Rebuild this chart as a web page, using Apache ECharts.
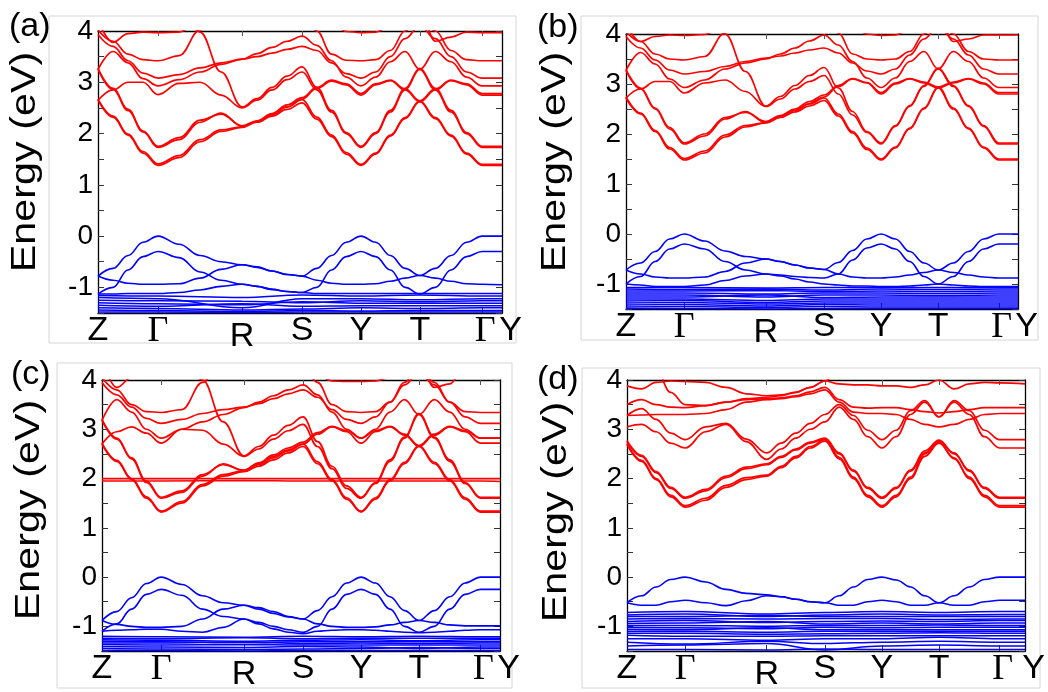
<!DOCTYPE html>
<html><head><meta charset="utf-8">
<script src="https://cdn.jsdelivr.net/npm/echarts@6/dist/echarts.min.js"></script>
<style>html,body{margin:0;padding:0;background:#fff}#c{width:1048px;height:692px}</style>
</head><body><div id="c"></div>
<script>
// ---- k-path (high-symmetry points) ----
const KLABELS = ['Z','Γ','R','S','Y','T','Γ','Y'];
const KPOS_ABC = [0, 1.0, 2.4, 3.4, 4.38, 5.36, 6.4, 6.73];
const KPOS_D   = [0, 1.0, 2.4, 3.4, 4.38, 5.36, 6.4, 6.84];
const Y_MIN = -1.5, Y_MAX = 4, Y_STEP = 0.5;
const PANEL_LETTERS = ['(a)','(b)','(c)','(d)'];
const Y_TITLE = 'Energy (eV)';

// Band values: 26 samples = quarter points of the 6 segments Z-Γ-R-S-Y-T-Γ + Γ + final Y
// Flat/dense bands: 8 samples at the high-symmetry points only.

// ---------- panel (a) ----------
const A_CB = [
 [2.65,2.32,1.97,1.62,1.38,1.53,1.84,2.04,2.12,2.22,2.34,2.47,2.60,2.28,1.94,1.60,1.38,1.60,1.95,2.29,2.62,2.29,1.95,1.60,1.38,1.38],
 [2.67,2.34,1.99,1.65,1.41,1.57,1.88,2.07,2.13,2.24,2.37,2.52,2.66,2.32,1.97,1.63,1.40,1.62,1.97,2.31,2.64,2.31,1.97,1.62,1.40,1.40],
 [3.25,2.86,2.45,2.03,1.73,1.88,2.22,2.40,2.14,2.23,2.36,2.52,2.67,2.88,3.02,2.95,2.75,2.95,3.03,2.85,2.62,2.85,3.03,2.95,2.75,2.75],
 [3.27,2.88,2.47,2.05,1.75,1.92,2.26,2.38,2.15,2.25,2.39,2.56,2.70,2.90,3.04,2.97,2.78,2.97,3.04,2.87,2.64,2.87,3.04,2.97,2.78,2.78],
 [2.65,2.85,3.00,3.00,2.76,2.98,3.00,2.75,2.50,2.65,2.85,3.05,3.20,2.85,2.42,2.00,1.73,2.00,2.42,2.85,3.25,2.85,2.42,2.00,1.73,1.73],
 [null,null,null,null,null,4.70,3.98,3.20,2.52,2.68,2.90,3.12,3.30,2.90,2.45,2.02,1.75,2.02,2.45,2.88,3.27,2.88,2.45,2.02,1.75,1.75],
 [3.25,3.60,3.38,3.07,2.93,3.05,3.20,3.35,3.45,3.56,3.68,3.80,3.90,3.72,3.42,3.10,2.93,3.10,3.40,3.60,3.25,3.60,3.40,3.10,2.93,2.93],
 [3.93,3.70,3.42,3.18,3.08,3.15,3.28,3.38,3.45,3.50,3.57,3.64,3.70,3.62,3.38,3.17,3.08,3.20,3.50,3.85,4.10,3.85,3.50,3.20,3.08,3.08],
 [4.02,3.80,3.55,3.44,3.42,3.52,4.02,4.50,4.50,4.50,4.50,4.50,4.40,4.00,3.55,3.43,3.42,3.44,3.62,4.00,4.30,4.00,3.62,3.44,3.42,3.42],
 [4.20,3.78,3.95,3.98,3.97,3.98,4.20,4.40,4.40,4.40,4.40,4.40,4.40,4.40,4.20,3.99,3.97,3.98,4.10,4.40,4.40,3.80,3.88,3.98,3.97,3.97]
];
const A_VB = [
 [-0.78,-0.63,-0.38,-0.12,0.00,-0.16,-0.38,-0.50,-0.56,-0.61,-0.68,-0.75,-0.78,-0.63,-0.38,-0.12,0.00,-0.12,-0.38,-0.63,-0.77,-0.63,-0.38,-0.12,0.00,0.00],
 [-1.13,-1.00,-0.66,-0.40,-0.30,-0.42,-0.70,-0.86,-0.94,-0.98,-1.04,-1.08,-1.10,-1.00,-0.66,-0.40,-0.30,-0.40,-0.66,-1.00,-1.13,-1.00,-0.66,-0.40,-0.30,-0.30],
 [-0.78,-0.86,-0.92,-0.94,-0.94,-0.93,-0.82,-0.65,-0.56,-0.60,-0.68,-0.75,-0.78,-0.86,-0.92,-0.94,-0.94,-0.93,-0.88,-0.82,-0.77,-0.82,-0.88,-0.93,-0.94,-0.95],
 [-1.13,-1.13,-1.12,-1.12,-1.12,-1.10,-1.05,-0.98,-0.94,-0.98,-1.04,-1.08,-1.10,-1.12,-1.12,-1.12,-1.12,-1.12,-1.12,-1.12,-1.12,-1.12,-1.12,-1.12,-1.12,-1.12]
];
const A_DENSE = [
 [-1.16,-1.17,-1.20,-1.15,-1.17,-1.15,-1.17,-1.17],
 [-1.20,-1.22,-1.40,-1.22,-1.22,-1.24,-1.22,-1.22],
 [-1.25,-1.26,-1.27,-1.30,-1.26,-1.28,-1.26,-1.26],
 [-1.30,-1.32,-1.34,-1.28,-1.31,-1.31,-1.31,-1.31],
 [-1.35,-1.37,-1.32,-1.37,-1.36,-1.36,-1.36,-1.36],
 [-1.40,-1.41,-1.44,-1.42,-1.40,-1.41,-1.40,-1.40],
 [-1.44,-1.45,-1.47,-1.45,-1.46,-1.45,-1.45,-1.45],
 [-1.48,-1.48,-1.49,-1.48,-1.48,-1.48,-1.48,-1.48]
];

// ---------- panel (b) ----------
const B_CB = [
 [2.72,2.40,2.05,1.70,1.48,1.62,1.94,2.14,2.22,2.33,2.44,2.56,2.67,2.36,2.02,1.69,1.48,1.72,2.10,2.50,2.92,2.50,2.10,1.72,1.48,1.48],
 [2.74,2.42,2.07,1.73,1.51,1.66,1.98,2.17,2.23,2.35,2.47,2.60,2.72,2.40,2.05,1.72,1.50,1.74,2.12,2.52,2.94,2.52,2.12,1.74,1.50,1.50],
 [3.27,2.90,2.50,2.10,1.80,1.96,2.30,2.45,2.23,2.34,2.47,2.61,2.74,2.95,3.10,3.02,2.80,3.00,3.10,3.02,2.92,3.02,3.10,3.00,2.80,2.80],
 [3.29,2.92,2.52,2.13,1.82,2.00,2.33,2.43,2.25,2.37,2.50,2.65,2.78,2.97,3.11,3.03,2.83,3.02,3.11,3.04,2.94,3.04,3.11,3.02,2.83,2.83],
 [2.72,2.90,3.05,3.05,2.82,3.02,3.08,2.85,2.55,2.70,2.90,3.05,3.17,2.80,2.38,2.03,1.80,2.15,2.55,2.95,3.30,2.95,2.55,2.15,1.80,1.80],
 [null,null,null,null,null,4.70,4.00,3.25,2.56,2.75,2.97,3.17,3.33,2.92,2.45,2.05,1.82,2.17,2.57,2.97,3.32,2.97,2.57,2.17,1.82,1.82],
 [3.27,3.63,3.40,3.10,2.93,3.08,3.30,3.42,3.50,3.60,3.72,3.86,3.98,3.78,3.45,3.12,2.93,3.12,3.45,3.65,3.30,3.65,3.45,3.12,2.93,2.93],
 [3.95,3.72,3.48,3.28,3.20,3.25,3.35,3.45,3.52,3.56,3.62,3.68,3.72,3.62,3.42,3.26,3.20,3.30,3.58,3.90,4.15,3.90,3.58,3.30,3.20,3.20],
 [4.05,3.85,3.60,3.50,3.48,3.55,4.02,4.50,4.50,4.50,4.50,4.50,4.40,4.02,3.60,3.50,3.48,3.50,3.65,4.00,4.30,4.00,3.65,3.50,3.48,3.48],
 [4.20,3.85,3.95,3.98,3.97,3.99,4.20,4.40,4.40,4.40,4.40,4.40,4.40,4.40,4.20,4.00,3.97,3.98,4.10,4.40,4.40,3.85,3.90,3.98,3.98,3.98]
];
const B_VB = [
 [-0.72,-0.58,-0.35,-0.10,0.00,-0.14,-0.34,-0.45,-0.50,-0.55,-0.62,-0.68,-0.71,-0.57,-0.33,-0.10,0.00,-0.10,-0.35,-0.58,-0.72,-0.58,-0.35,-0.10,0.00,0.00],
 [-1.00,-0.85,-0.55,-0.30,-0.20,-0.30,-0.55,-0.72,-0.80,-0.82,-0.85,-0.87,-0.88,-0.80,-0.52,-0.28,-0.20,-0.30,-0.55,-0.85,-1.00,-0.85,-0.55,-0.30,-0.20,-0.20],
 [-0.72,-0.80,-0.86,-0.88,-0.88,-0.86,-0.75,-0.58,-0.50,-0.55,-0.62,-0.68,-0.71,-0.80,-0.86,-0.88,-0.88,-0.86,-0.82,-0.77,-0.72,-0.77,-0.82,-0.86,-0.88,-0.88],
 [-1.00,-1.02,-1.05,-1.05,-1.05,-1.02,-0.93,-0.84,-0.80,-0.84,-0.90,-0.96,-1.00,-1.02,-1.04,-1.04,-1.05,-1.05,-1.04,-1.02,-1.00,-1.02,-1.04,-1.05,-1.05,-1.05]
];
const B_DENSE = [
 [-1.07,-1.07,-1.08,-1.07,-1.07,-1.07,-1.07,-1.07],
 [-1.10,-1.11,-1.10,-1.12,-1.10,-1.11,-1.10,-1.10],
 [-1.14,-1.14,-1.13,-1.15,-1.14,-1.15,-1.14,-1.14],
 [-1.18,-1.18,-1.20,-1.18,-1.18,-1.19,-1.18,-1.18],
 [-1.22,-1.22,-1.26,-1.22,-1.22,-1.23,-1.22,-1.22],
 [-1.26,-1.26,-1.22,-1.27,-1.26,-1.26,-1.26,-1.26],
 [-1.30,-1.30,-1.33,-1.30,-1.30,-1.30,-1.30,-1.30],
 [-1.34,-1.33,-1.37,-1.34,-1.34,-1.34,-1.34,-1.34],
 [-1.38,-1.37,-1.40,-1.38,-1.38,-1.38,-1.38,-1.38],
 [-1.42,-1.41,-1.44,-1.41,-1.42,-1.42,-1.42,-1.42],
 [-1.46,-1.45,-1.47,-1.45,-1.46,-1.46,-1.46,-1.46],
 [-1.49,-1.49,-1.50,-1.49,-1.49,-1.49,-1.49,-1.49]
];

// ---------- panel (c) ----------
const C_CB = [
 [2.70,2.35,1.98,1.60,1.32,1.50,1.85,2.05,2.14,2.25,2.38,2.52,2.65,2.30,1.95,1.58,1.32,1.58,1.95,2.30,2.65,2.30,1.95,1.58,1.32,1.32],
 [2.72,2.37,2.00,1.63,1.34,1.53,1.88,2.08,2.16,2.28,2.42,2.56,2.70,2.34,1.98,1.61,1.34,1.61,1.98,2.33,2.67,2.33,1.98,1.61,1.34,1.34],
 [3.18,2.80,2.40,1.92,1.60,1.72,2.05,2.30,2.16,2.30,2.45,2.58,2.70,2.90,3.05,2.95,2.72,2.95,3.05,2.88,2.65,2.88,3.05,2.95,2.72,2.72],
 [3.20,2.82,2.42,1.95,1.62,1.75,2.08,2.28,2.17,2.32,2.48,2.62,2.74,2.93,3.06,2.97,2.82,2.97,3.06,2.90,2.67,2.90,3.06,2.97,2.82,2.82],
 [2.70,2.95,3.05,2.92,2.72,3.00,2.98,2.70,2.45,2.60,2.80,2.97,3.10,2.65,2.20,1.80,1.60,1.90,2.35,2.82,3.30,2.82,2.35,1.90,1.60,1.60],
 [null,null,null,null,null,4.70,4.00,3.15,2.46,2.65,2.88,3.08,3.25,2.75,2.25,1.85,1.62,1.92,2.38,2.84,3.32,2.84,2.38,1.92,1.62,1.62],
 [3.18,3.60,3.35,3.00,2.82,3.00,3.15,3.30,3.44,3.55,3.68,3.80,3.90,3.70,3.35,3.00,2.82,3.00,3.35,3.60,3.30,3.60,3.35,3.00,2.82,2.82],
 [3.95,3.70,3.45,3.22,3.12,3.20,3.32,3.40,3.45,3.52,3.62,3.72,3.80,3.65,3.40,3.20,3.12,3.25,3.55,3.90,4.15,3.90,3.55,3.25,3.12,3.12],
 [4.05,3.80,3.50,3.36,3.34,3.40,3.95,4.50,4.50,4.50,4.50,4.50,4.30,3.95,3.50,3.36,3.34,3.36,3.55,3.95,4.30,3.95,3.55,3.36,3.34,3.34],
 [4.40,3.85,4.05,4.30,4.40,4.40,4.40,4.40,4.40,4.40,4.40,4.40,4.40,4.10,3.98,3.97,3.97,3.98,4.05,4.40,4.40,3.85,3.92,4.30,4.40,4.40]
];
const C_FLAT = [
 [2.00,2.00,2.00,2.00,2.00,2.00,2.00,2.00],
 [1.95,1.95,1.96,1.95,1.95,1.95,1.95,1.94]
];
const C_VB = [
 [-0.88,-0.70,-0.42,-0.13,0.00,-0.15,-0.38,-0.52,-0.57,-0.65,-0.74,-0.81,-0.85,-0.68,-0.40,-0.12,0.00,-0.12,-0.40,-0.68,-0.88,-0.68,-0.40,-0.12,0.00,0.00],
 [-1.10,-0.95,-0.65,-0.35,-0.25,-0.37,-0.65,-0.80,-0.85,-0.92,-1.00,-1.07,-1.12,-1.00,-0.65,-0.35,-0.25,-0.35,-0.65,-1.00,-1.12,-1.00,-0.65,-0.35,-0.25,-0.25],
 [-0.88,-0.96,-1.00,-1.02,-1.02,-1.00,-0.85,-0.65,-0.57,-0.62,-0.70,-0.80,-0.85,-0.95,-1.00,-1.02,-1.02,-1.01,-0.97,-0.92,-0.88,-0.92,-0.97,-0.99,-0.99,-0.99],
 [-1.10,-1.08,-1.07,-1.06,-1.06,-1.10,-1.12,-1.02,-0.85,-0.95,-1.05,-1.12,-1.15,-1.10,-1.08,-1.07,-1.07,-1.08,-1.10,-1.12,-1.13,-1.12,-1.10,-1.08,-1.07,-1.07]
];
const C_DENSE = [
 [-1.20,-1.21,-1.22,-1.20,-1.21,-1.20,-1.21,-1.21],
 [-1.24,-1.25,-1.23,-1.25,-1.24,-1.24,-1.24,-1.24],
 [-1.27,-1.28,-1.30,-1.28,-1.27,-1.29,-1.27,-1.27],
 [-1.30,-1.31,-1.33,-1.31,-1.31,-1.31,-1.31,-1.31],
 [-1.34,-1.34,-1.32,-1.35,-1.34,-1.35,-1.34,-1.34],
 [-1.37,-1.38,-1.37,-1.38,-1.38,-1.38,-1.38,-1.38],
 [-1.41,-1.42,-1.43,-1.41,-1.42,-1.45,-1.42,-1.42],
 [-1.45,-1.46,-1.47,-1.46,-1.45,-1.43,-1.45,-1.45],
 [-1.49,-1.49,-1.50,-1.49,-1.49,-1.49,-1.49,-1.49]
];

// ---------- panel (d) ----------
const D_CB = [
 [2.69,2.35,1.98,1.63,1.42,1.56,1.82,1.98,2.05,2.22,2.42,2.62,2.76,2.40,2.00,1.63,1.42,1.63,2.00,2.45,2.72,2.42,2.00,1.63,1.42,1.42],
 [2.71,2.37,2.00,1.66,1.45,1.60,1.86,2.02,2.07,2.25,2.45,2.65,2.79,2.43,2.03,1.66,1.45,1.66,2.03,2.50,2.74,2.40,2.03,1.66,1.45,1.45],
 [2.75,2.45,2.12,1.80,1.60,1.75,2.02,2.20,2.28,2.43,2.58,2.72,2.80,2.50,2.15,1.80,1.60,1.80,2.15,2.52,2.76,2.52,2.15,1.80,1.60,1.60],
 [2.77,2.47,2.14,1.82,1.62,1.78,2.05,2.23,2.30,2.45,2.60,2.74,2.82,2.52,2.17,1.82,1.62,1.82,2.17,2.56,2.78,2.50,2.17,1.82,1.62,1.62],
 [3.05,3.10,2.95,2.72,2.62,2.95,3.10,2.75,2.39,2.60,2.82,3.00,3.15,3.45,3.20,2.85,2.62,2.85,3.30,3.55,3.25,3.55,3.30,2.85,2.62,2.62],
 [3.28,3.42,3.20,2.92,2.79,3.05,3.12,2.80,2.52,2.72,2.92,3.12,3.30,3.50,3.28,2.98,2.79,2.98,3.38,3.58,3.25,3.58,3.38,2.98,2.79,2.79],
 [3.28,3.29,3.30,3.30,3.30,3.32,3.40,3.55,3.60,3.62,3.66,3.72,3.80,3.55,3.35,3.32,3.32,3.30,3.20,3.10,3.05,3.10,3.20,3.30,3.32,3.32],
 [3.50,3.60,3.50,3.45,3.44,3.48,3.55,3.60,3.62,3.64,3.68,3.76,3.85,3.60,3.45,3.43,3.44,3.44,3.40,3.36,3.33,3.36,3.40,3.44,3.44,3.44],
 [3.88,3.82,3.95,3.98,3.97,3.95,3.85,3.72,3.68,3.70,3.75,3.85,3.98,3.92,3.90,3.90,3.88,3.88,3.85,3.90,4.00,3.82,3.92,3.95,3.94,3.92],
 [4.40,4.40,4.20,3.75,3.50,3.48,3.55,3.62,3.65,3.68,3.75,3.85,3.98,4.20,4.40,4.40,4.40,4.40,4.40,4.40,4.40,4.40,4.40,4.40,4.40,4.40]
];
const D_VB = [
 [-0.52,-0.38,-0.20,-0.05,0.00,-0.10,-0.25,-0.33,-0.36,-0.40,-0.45,-0.50,-0.52,-0.38,-0.20,-0.05,0.00,-0.06,-0.20,-0.38,-0.52,-0.38,-0.20,-0.05,0.00,0.00],
 [-0.52,-0.57,-0.57,-0.50,-0.47,-0.52,-0.58,-0.48,-0.38,-0.40,-0.45,-0.50,-0.52,-0.57,-0.57,-0.50,-0.47,-0.50,-0.57,-0.57,-0.52,-0.57,-0.57,-0.50,-0.47,-0.47]
];
const D_DENSE = [
 [-0.72,-0.70,-0.75,-0.72,-0.70,-0.72,-0.70,-0.70],
 [-0.77,-0.75,-0.80,-0.77,-0.75,-0.77,-0.76,-0.76],
 [-0.80,-0.80,-0.78,-0.80,-0.80,-0.80,-0.80,-0.80],
 [-0.85,-0.84,-0.85,-0.84,-0.84,-0.86,-0.85,-0.85],
 [-0.90,-0.88,-0.92,-0.90,-0.89,-0.90,-0.88,-0.88],
 [-0.94,-0.93,-0.90,-0.95,-0.93,-0.95,-0.93,-0.93],
 [-0.98,-0.98,-1.00,-0.98,-0.98,-0.97,-0.98,-0.98],
 [-1.02,-1.03,-1.05,-1.02,-1.03,-1.02,-1.02,-1.02],
 [-1.06,-1.07,-1.03,-1.07,-1.07,-1.07,-1.07,-1.07],
 [-1.10,-1.10,-1.12,-1.10,-1.10,-1.10,-1.10,-1.10],
 [-1.14,-1.14,-1.16,-1.15,-1.14,-1.13,-1.14,-1.14],
 [-1.18,-1.20,-1.20,-1.19,-1.19,-1.19,-1.19,-1.19],
 [-1.25,-1.25,-1.28,-1.25,-1.25,-1.22,-1.25,-1.25],
 [-1.32,-1.36,-1.30,-1.35,-1.32,-1.30,-1.32,-1.32],
 [-1.40,-1.38,-1.35,-1.48,-1.40,-1.38,-1.40,-1.40],
 [-1.47,-1.47,-1.48,-1.46,-1.47,-1.47,-1.47,-1.47]
];

// ---------- layout ----------
const RED = '#ff0000', BLUE = '#0000ff';
const GRIDS = [
  {left: 98, top: 31, width: 404, height: 282},
  {left: 626, top: 34, width: 392, height: 275},
  {left: 102, top: 380, width: 398, height: 279},
  {left: 627, top: 380, width: 400, height: 279}
];
const FRAMES = [[49,16,467,327],[581,16,457,324],[57,363,455,325],[582,368,458,320]];
const LETTER_POS = [[9,27],[537,28],[11,375],[537,380]];
const TITLE_POS = [[25,162],[555,162],[29,510],[556,512]];

const PANELS = [
  {K: KPOS_ABC, red: [A_CB], blue: [A_VB], dense: A_DENSE},
  {K: KPOS_ABC, red: [B_CB], blue: [B_VB], dense: B_DENSE},
  {K: KPOS_ABC, red: [C_CB, C_FLAT], blue: [C_VB], dense: C_DENSE},
  {K: KPOS_D,   red: [D_CB], blue: [D_VB], dense: D_DENSE}
];

function fineX(K){
  const xs = [];
  for (let s = 0; s < 6; s++) for (let q = 0; q < 4; q++) xs.push(K[s] + (K[s+1]-K[s]) * q / 4);
  xs.push(K[6]); xs.push(K[7]);
  return xs;
}

const xAxes = [], yAxes = [], series = [];
PANELS.forEach((p, gi) => {
  const K = p.K;
  const fmt = (v) => {
    const i = K.findIndex(k => Math.abs(k - v) < 1e-6);
    if (i < 0) return '';
    const lab = KLABELS[i];
    if (i === 7) return '{y|' + lab + '}';
    if (i === 6) return '{g2|' + lab + '}';
    if (lab === 'Γ') return '{g|' + lab + '}';
    if (lab === 'R') return '{r|' + lab + '}';
    return '{n|' + lab + '}';
  };
  const base = {type: 'value', gridIndex: gi, min: 0, max: K[7], splitLine: {show: false},
    axisLine: {show: true, onZero: false, lineStyle: {color: '#000', width: 1.3}}};
  xAxes.push(Object.assign({}, base, {position: 'bottom',
    axisTick: {show: true, inside: true, length: 6, customValues: K.slice(1, 7), lineStyle: {color: '#333'}},
    axisLabel: {show: true, customValues: K, margin: 1, formatter: fmt, color: '#000',
      rich: {
        n: {fontSize: 34, fontFamily: 'Liberation Sans', color: '#000'},
        g: {fontSize: 36, fontFamily: 'Liberation Serif', color: '#000'},
        g2: {fontSize: 36, fontFamily: 'Liberation Serif', color: '#000', padding: [0, 0, 0, 6]},
        r: {fontSize: 34, fontFamily: 'Liberation Sans', color: '#000', padding: [6, 0, 0, 0]},
        y: {fontSize: 34, fontFamily: 'Liberation Sans', color: '#000', padding: [0, 0, 0, 17]}
      }}}));
  xAxes.push(Object.assign({}, base, {position: 'top',
    axisTick: {show: true, inside: true, length: 5, customValues: K.slice(1, 7), lineStyle: {color: '#555'}},
    axisLabel: {show: false}}));
  const ybase = {type: 'value', gridIndex: gi, min: Y_MIN, max: Y_MAX, interval: Y_STEP, splitLine: {show: false},
    axisLine: {show: true, onZero: false, lineStyle: {color: '#000', width: 1.3}}};
  yAxes.push(Object.assign({}, ybase, {position: 'left',
    axisTick: {show: true, inside: true, length: 6, lineStyle: {color: '#333'}},
    axisLabel: {show: true, margin: 5, fontSize: 28, fontFamily: 'Liberation Sans', color: '#000',
      formatter: v => Math.abs(v - Math.round(v)) < 1e-9 ? String(Math.round(v)) : ''}}));
  yAxes.push(Object.assign({}, ybase, {position: 'right',
    axisTick: {show: true, inside: true, length: 6, lineStyle: {color: '#333'}},
    axisLabel: {show: false}}));

  const xf = fineX(K);
  const add = (rows, color, width) => rows.forEach(r => {
    const xs = r.length === 26 ? xf : K;
    const data = [];
    r.forEach((v, i) => { if (v !== null) data.push([xs[i], v]); });
    series.push({type: 'line', xAxisIndex: gi * 2, yAxisIndex: gi * 2, data,
      showSymbol: false, symbol: 'none', smooth: 0.4, smoothMonotone: 'x', clip: true,
      lineStyle: {color, width}, itemStyle: {color}, silent: true, animation: false, z: 2});
  });
  p.red.forEach(g => add(g, RED, 1.7));
  p.blue.forEach(g => add(g, BLUE, 1.6));
  add(p.dense, BLUE, 1.5);
});

const graphic = [];
FRAMES.forEach(f => graphic.push({type: 'rect', z: -10, silent: true,
  shape: {x: f[0], y: f[1], width: f[2], height: f[3]},
  style: {fill: 'none', stroke: '#d6d6d6', lineWidth: 1}}));
LETTER_POS.forEach((pos, i) => graphic.push({type: 'text', x: pos[0], y: pos[1], silent: true,
  style: {text: PANEL_LETTERS[i], font: '34px "Liberation Sans"', fill: '#000', textAlign: 'left', textVerticalAlign: 'middle'}}));
TITLE_POS.forEach(pos => graphic.push({type: 'text', x: pos[0], y: pos[1], rotation: Math.PI / 2, scaleX: 1.18, silent: true,
  style: {text: Y_TITLE, font: '35px "Liberation Sans"', fill: '#000', textAlign: 'center', textVerticalAlign: 'middle'}}));

const chart = echarts.init(document.getElementById('c'), null, {renderer: 'canvas'});
chart.setOption({
  animation: false,
  backgroundColor: '#fff',
  textStyle: {fontFamily: 'Liberation Sans'},
  grid: GRIDS.map(g => Object.assign({containLabel: false}, g)),
  xAxis: xAxes, yAxis: yAxes, series, graphic
});
</script></body></html>
